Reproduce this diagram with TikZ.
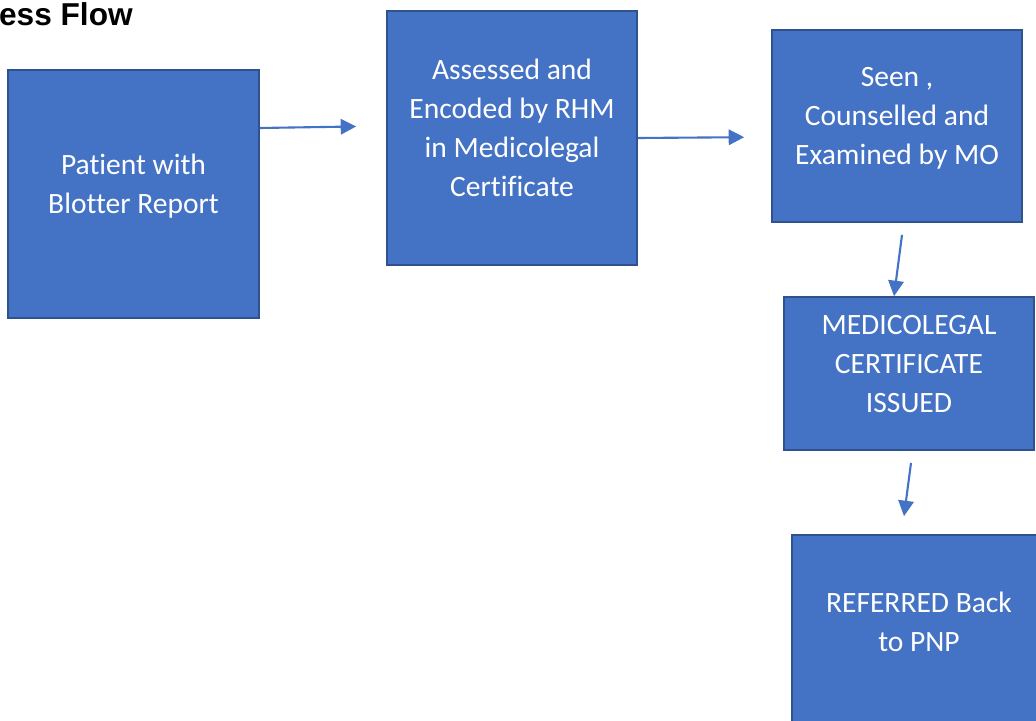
\documentclass[tikz,border=0pt]{standalone}
\usepackage{fontspec}
\setmainfont{Carlito}[Ligatures=NoCommon]
\newfontfamily\titlefont{Liberation Sans}
\usetikzlibrary{arrows.meta,calc}
\definecolor{boxblue}{HTML}{4472C4}
\definecolor{boxedge}{HTML}{2F528F}
\tikzset{
         stepbox/.style={rectangle,fill=boxblue,draw=boxedge,line width=1.2pt,text=white,align=center,
                         text depth=14pt,font=\fontsize{21}{27.7}\selectfont},
         flow/.style={draw=boxblue,line width=1.5pt,-{Triangle[length=11pt,width=11pt]}}
        }
\begin{document}
\begin{tikzpicture}
\clip(0,0)rectangle(25.9,18);
\fill[white](0,0)rectangle(25.9,18);
%title
\node[font=\titlefont\bfseries\fontsize{22.5}{26}\selectfont,anchor=base east,inner sep=0](title)at(3.325,17.37){ess Flow};
%boxes
\node[stepbox,minimum width=6.275cm,minimum height=6.2cm](patient)at(3.3375,13.15){Patient with\\Blotter Report};
\node[stepbox,minimum width=6.25cm,minimum height=6.35cm](assessed)at(12.8,14.55){Assessed and\\Encoded by RHM\\in Medicolegal\\Certificate};
\node[stepbox,minimum width=6.25cm,minimum height=4.8cm](seen)at(22.425,14.85){Seen ,\\Counselled and\\Examined by MO};
\node[stepbox,minimum width=6.25cm,minimum height=3.825cm](issued)at(22.725,8.6625){MEDICOLEGAL\\CERTIFICATE\\ISSUED};
\node[stepbox,minimum width=6.35cm,minimum height=4.825cm](referred)at(22.975,2.2125){REFERRED Back\\to PNP};
%arrows
\draw[flow,shorten >=0.75cm]([yshift=1.65cm]patient.east)--([yshift=0.3cm]assessed.west);
\draw[flow,shorten >=0.675cm](assessed.east)--([yshift=-0.275cm]seen.west);
\draw[flow]([xshift=0.125cm,yshift=-0.3cm]seen.south)--([xshift=-0.375cm]issued.north);
\draw[flow]([xshift=0.05cm,yshift=-0.3cm]issued.south)--([xshift=-0.375cm,yshift=0.45cm]referred.north);
\end{tikzpicture}
\end{document}
